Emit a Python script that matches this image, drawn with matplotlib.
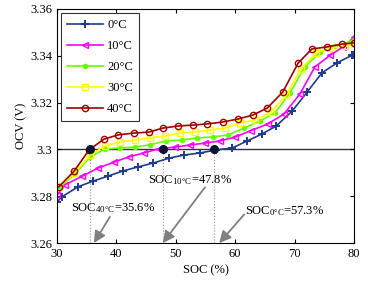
import matplotlib
matplotlib.use('Agg')
from matplotlib import pyplot as plt

plt.rcParams['font.family'] = ['Liberation Serif', 'DejaVu Serif']
plt.rcParams['mathtext.fontset'] = 'stix'

# ---- data ----
soc_0 = [30.0, 30.8, 33.5, 36.1, 38.6, 41.1, 43.6, 46.2, 48.9, 51.4, 54.1, 56.8, 59.5, 62.0,
         64.5, 66.9, 69.6, 72.1, 74.6, 77.1, 79.7, 80.0]
ocv_0 = [3.2775, 3.2797, 3.2840, 3.2865, 3.2886, 3.2908, 3.2925, 3.2942, 3.2963, 3.2976, 3.2985,
         3.2998, 3.3006, 3.3036, 3.3066, 3.3100, 3.3164, 3.3245, 3.3327, 3.3369, 3.3403, 3.3405]

soc_10 = [30.0, 31.3, 34.2, 36.9, 39.6, 42.1, 44.6, 47.2, 49.9, 52.4, 54.9, 57.4, 60.0, 62.6,
          65.5, 68.2, 70.9, 73.4, 76.0, 78.2, 80.0]
ocv_10 = [3.2805, 3.2848, 3.2885, 3.2920, 3.2946, 3.2968, 3.2985, 3.3003, 3.3010, 3.3019, 3.3027,
          3.3036, 3.3053, 3.3080, 3.3109, 3.3151, 3.3237, 3.3352, 3.3403, 3.3438, 3.3480]

soc_20 = [30.3, 33.0, 35.6, 38.1, 40.6, 43.1, 45.7, 48.3, 51.0, 53.6, 56.2, 58.8, 61.4, 64.1,
          66.7, 69.2, 71.7, 74.3, 76.8, 79.3, 80.0]
ocv_20 = [3.2835, 3.2895, 3.2968, 3.3002, 3.3006, 3.3010, 3.3020, 3.3036, 3.3040, 3.3049, 3.3053,
          3.3062, 3.3090, 3.3121, 3.3156, 3.3241, 3.3352, 3.3416, 3.3442, 3.3460, 3.3468]

soc_30 = [30.3, 32.9, 35.6, 38.1, 40.6, 43.1, 45.7, 48.2, 50.7, 53.2, 55.8, 58.3, 60.8, 63.4,
          66.0, 68.6, 71.1, 73.6, 76.0, 78.5, 80.0]
ocv_30 = [3.2840, 3.2899, 3.2976, 3.3015, 3.3032, 3.3040, 3.3049, 3.3057, 3.3070, 3.3074, 3.3083,
          3.3091, 3.3113, 3.3126, 3.3160, 3.3232, 3.3344, 3.3412, 3.3433, 3.3440, 3.3450]

soc_40 = [30.3, 32.9, 35.4, 37.9, 40.3, 43.0, 45.5, 47.8, 50.4, 52.9, 55.3, 57.9, 60.5, 63.0,
          65.4, 68.0, 70.6, 72.9, 75.5, 78.0, 80.0]
ocv_40 = [3.2840, 3.2908, 3.2998, 3.3044, 3.3062, 3.3070, 3.3074, 3.3091, 3.3100, 3.3104, 3.3109,
          3.3117, 3.3130, 3.3147, 3.3177, 3.3245, 3.3369, 3.3429, 3.3438, 3.3450, 3.3455]

labels = ['0°C', '10°C', '20°C', '30°C', '40°C']
ocv_ref = 3.30
cross_soc = [35.6, 47.8, 56.5]
notes = ['SOC$_{\\mathregular{40°C}}$=35.6%', 'SOC$_{\\mathregular{10°C}}$=47.8%',
         'SOC$_{\\mathregular{0°C}}$=57.3%']
note_pos = [(32.4, 3.2748), (45.3, 3.2871), (61.6, 3.2738)]
arrow_tail = [(38.9, 3.2712), (54.9, 3.2838), (61.5, 3.2722)]
arrow_head = [(36.2, 3.2600), (47.8, 3.2600), (57.3, 3.2600)]

# ---- plot ----
fig = plt.figure(figsize=(3.68, 2.89), dpi=100)
ax = fig.add_axes([0.155, 0.159, 0.807, 0.81])

ax.axhline(ocv_ref, color='#333333', lw=1.0, zorder=1)
for s in cross_soc:
    ax.plot([s, s], [3.26, ocv_ref], color='#999999', lw=0.8, ls=':', zorder=1)

ax.plot(soc_0, ocv_0, color='#1f3a8f', lw=1.2, marker='+', ms=6, mew=1.4, label=labels[0])
ax.plot(soc_10, ocv_10, color='#ff00ff', lw=1.2, marker='<', ms=5, mfc='none', mew=1.0, label=labels[1])
ax.plot(soc_20, ocv_20, color='#66ff00', lw=1.2, marker='.', ms=6, label=labels[2])
ax.plot(soc_30, ocv_30, color='#ffff00', lw=1.2, marker='s', ms=4.5, mfc='none', mew=1.0, label=labels[3])
ax.plot(soc_40, ocv_40, color='#a00000', lw=1.2, marker='o', ms=4.5, mfc='none', mew=1.0, label=labels[4])

ax.plot(cross_soc, [ocv_ref] * len(cross_soc), 'o', color='#0b1533', ms=5.5, zorder=5)

for txt, pos, tail, head in zip(notes, note_pos, arrow_tail, arrow_head):
    ax.text(pos[0], pos[1], txt, fontsize=9, va='center', ha='left')
    ax.annotate('', xy=head, xytext=tail,
                arrowprops=dict(arrowstyle='-|>,head_length=0.7,head_width=0.35',
                                color='#808080', lw=1.3, shrinkA=0, shrinkB=0))

ax.set_xlim(30, 80)
ax.set_ylim(3.26, 3.36)
ax.set_xticks([30, 40, 50, 60, 70, 80])
ax.set_yticks([3.26, 3.28, 3.30, 3.32, 3.34, 3.36])
ax.set_yticklabels(['3.26', '3.28', '3.3', '3.32', '3.34', '3.36'])
ax.tick_params(direction='in', top=True, right=True, labelsize=9, length=3)
ax.set_xlabel('SOC (%)', fontsize=9, labelpad=3)
ax.set_ylabel('OCV (V)', fontsize=9, labelpad=2)

leg = ax.legend(loc='upper left', fontsize=9, fancybox=False, edgecolor='black',
                handlelength=2.9, borderpad=0.45, labelspacing=0.72, handletextpad=0.3,
                borderaxespad=0.35)
leg.get_frame().set_linewidth(0.8)

fig.savefig('out.png', dpi=100)
